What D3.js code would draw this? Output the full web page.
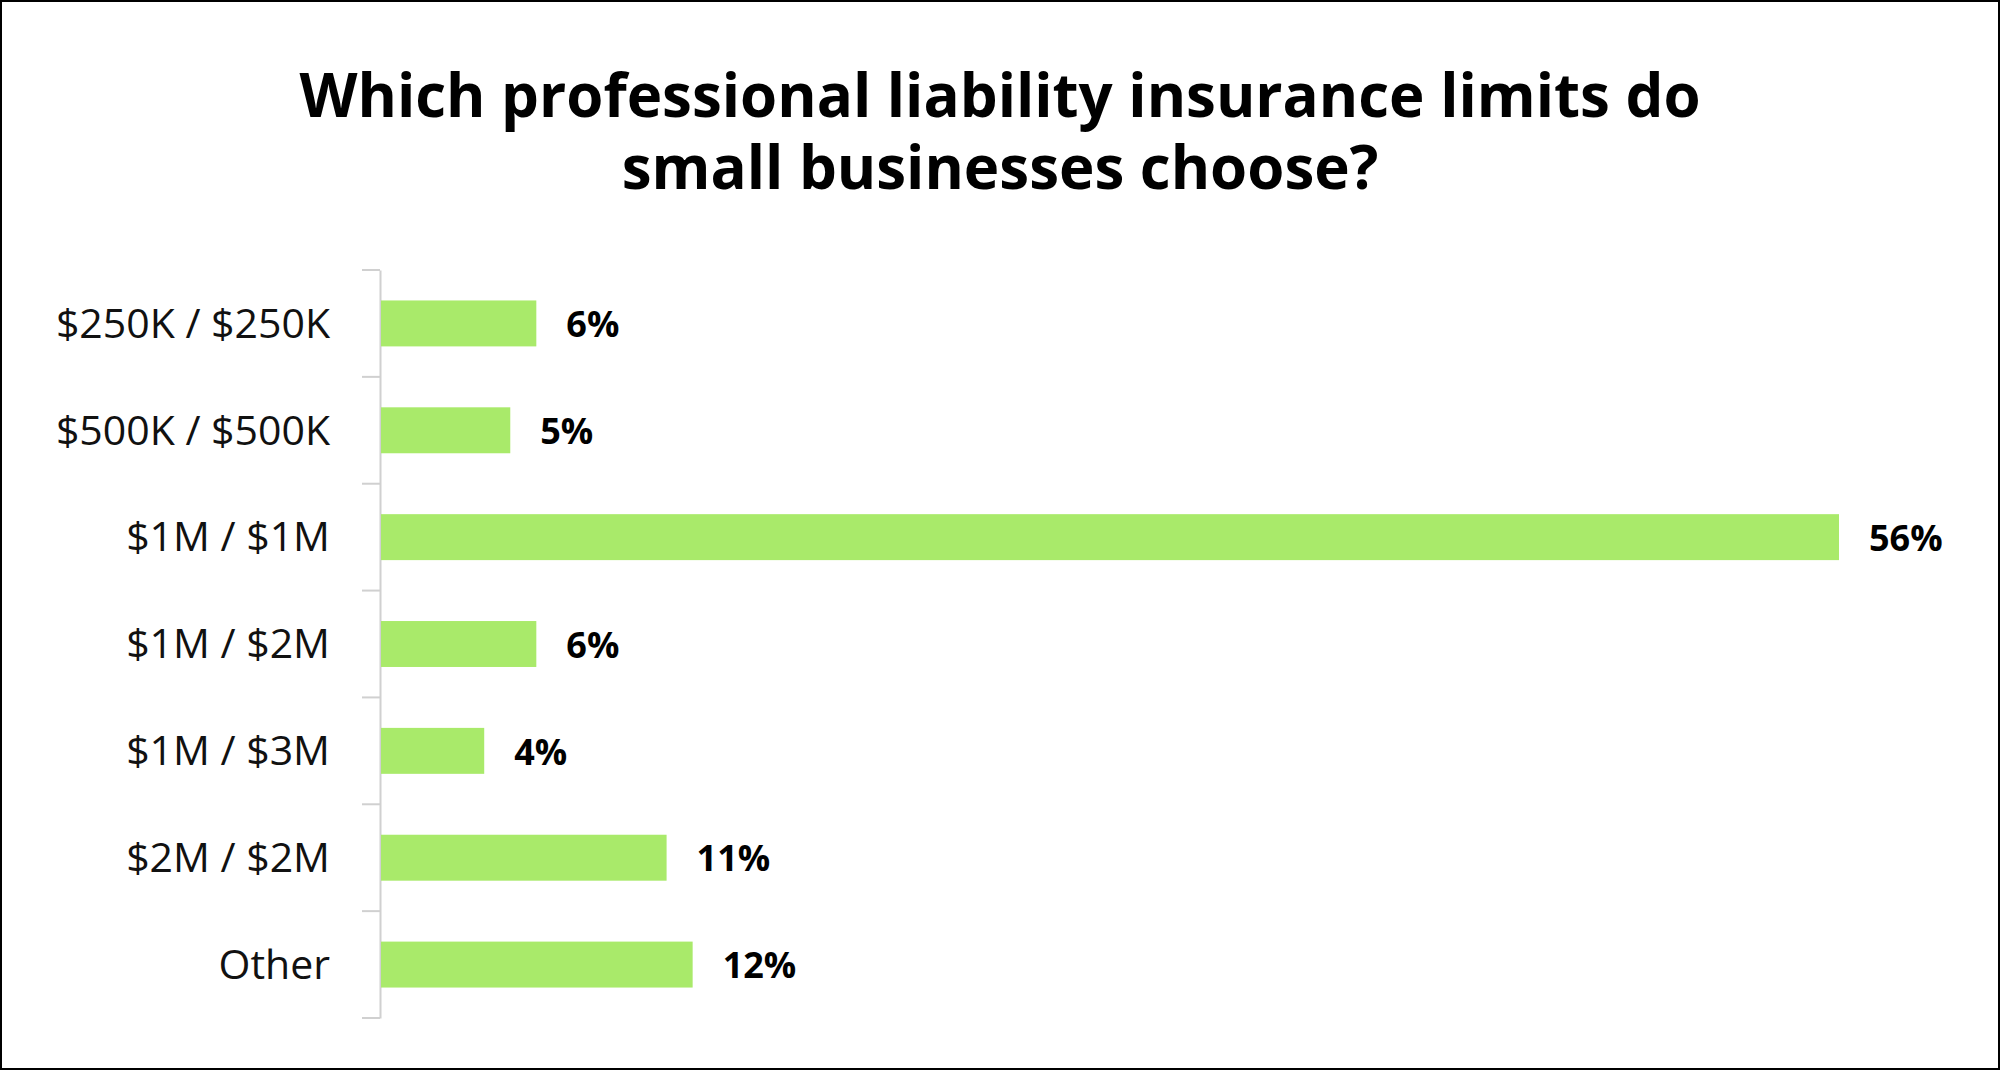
<!DOCTYPE html>
<html><head><meta charset="utf-8">
<script src="https://cdn.jsdelivr.net/npm/d3@7/dist/d3.min.js"></script>
<style>body{margin:0;background:#fff}</style></head>
<body><svg id="c" width="2000" height="1070"></svg>
<script>
const categories=["$250K / $250K","$500K / $500K","$1M / $1M","$1M / $2M","$1M / $3M","$2M / $2M","Other"];
const values=[6,5,56,6,4,11,12];
const valueLabels=["6%","5%","56%","6%","4%","11%","12%"];
const titleLines=["Which professional liability insurance limits do","small businesses choose?"];
const svg=d3.select("#c");
const font="'Open Sans', sans-serif";
svg.append("rect").attr("x",1).attr("y",1).attr("width",1998).attr("height",1068).attr("fill","#fff").attr("stroke","#000").attr("stroke-width",2);
svg.selectAll(".t").data(titleLines).join("text").attr("x",1000).attr("y",(d,i)=>117+i*72)
 .attr("text-anchor","middle").attr("font-family",font).attr("font-weight","bold").attr("font-size",60).text(d=>d);
const x0=380;
const x=d3.scaleLinear().domain([0,56]).range([x0,1839]);
const y=d3.scaleBand().domain(categories).range([270,1018]).paddingInner(0.57).paddingOuter(0.285);
const ax=svg.append("g").attr("transform",`translate(${x0},0)`).call(d3.axisLeft(y).tickSize(0).tickPadding(0).tickFormat(""));
ax.select(".domain").attr("stroke","#d0d0d0").attr("stroke-width",2);
const edges=d3.range(categories.length+1).map(i=>270+i*(748/categories.length));
svg.selectAll(".tk").data(edges).join("line").attr("x1",362).attr("x2",x0).attr("y1",d=>d).attr("y2",d=>d).attr("stroke","#d0d0d0").attr("stroke-width",2);
svg.selectAll(".bar").data(values).join("rect").attr("x",x0+1).attr("y",(d,i)=>y(categories[i]))
 .attr("width",d=>x(d)-x0-1).attr("height",y.bandwidth()).attr("fill","#a9ea6a");
svg.selectAll(".cl").data(categories).join("text").attr("x",330).attr("y",d=>y(d)+y.bandwidth()/2)
 .attr("dy","0.35em").attr("text-anchor","end").attr("font-family",font).attr("font-size",41).attr("fill","#111").text(d=>d);
svg.selectAll(".vl").data(values).join("text").attr("x",d=>x(d)+30).attr("y",(d,i)=>y(categories[i])+y.bandwidth()/2)
 .attr("dy","0.38em").attr("font-family",font).attr("font-weight","bold").attr("font-size",36).text((d,i)=>valueLabels[i]);
</script></body></html>
